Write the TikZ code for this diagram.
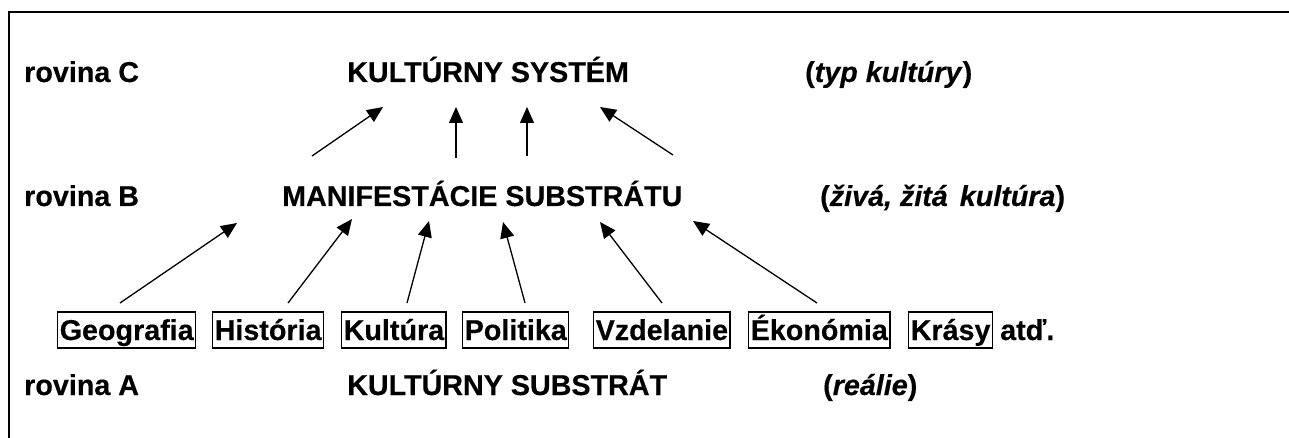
\documentclass[tikz,border=0pt]{standalone}
\usepackage{fontspec}
\setmainfont{Liberation Sans}[BoldFeatures={FakeBold=0.35}, BoldItalicFeatures={FakeBold=0.35}]
\usetikzlibrary{arrows.meta}

\tikzset{
  lbl/.style={anchor=base west, inner sep=0pt, font=\fontsize{28.7}{34}\selectfont\bfseries},
  itembox/.style={lbl, draw, line width=1.4pt, inner xsep=2pt, inner ysep=1.5pt,
                  text height=26.5pt, text depth=6.5pt},
  arr/.style={line width=1.3pt, -{Triangle[length=16pt,width=14pt]}},
  frame/.style={line width=1.6pt}
}

\begin{document}
\begin{tikzpicture}[x=1pt, y=-1pt]
\useasboundingbox (0,0) rectangle (1289,438);

% open frame (top and left edges)
\draw[frame] (1289,12) -- (9,12) -- (9,438);

% level C
\node[lbl] (rovC) at (24,82) {rovina C};
\node[lbl] (sys)  at (347,82) {KULTÚRNY SYSTÉM};
\node[lbl] (typC) at (805,82) {(\textit{typ kultúry})};

% level B
\node[lbl] (rovB) at (24,206) {rovina B};
\node[lbl] (man)  at (282,206) {MANIFESTÁCIE SUBSTRÁTU};
\node[lbl] (typB) at (820,206) {(\textit{živá, žitá\hspace{12pt}kultúra})};

% substrate items
\node[itembox] (geo) at (57,340)  {Geografia};
\node[itembox] (his) at (212,340) {História};
\node[itembox] (kul) at (341,340) {Kultúra};
\node[itembox] (pol) at (462,340) {Politika\ };
\node[itembox] (vzd) at (593,340) {Vzdelanie};
\node[itembox] (eko) at (748,340) {Ékonómia};
\node[itembox] (kra) at (908,340) {Krásy};
\node[lbl]     (atd) at (1000,340) {atď.};

% level A
\node[lbl] (rovA) at (24,395) {rovina A};
\node[lbl] (sub)  at (347,395) {KULTÚRNY SUBSTRÁT};
\node[lbl] (typA) at (823,395) {(\textit{reálie})};

% arrow ends between B and C
\coordinate (c1t) at (312,156); \coordinate (c1h) at (383,107);
\coordinate (c2t) at (456,158); \coordinate (c2h) at (456,107);
\coordinate (c3t) at (527,156); \coordinate (c3h) at (527,107);
\coordinate (c4t) at (673,155); \coordinate (c4h) at (600,107);

% arrow ends between A items and B
\coordinate (b1t) at (120,303); \coordinate (b1h) at (237,223);
\coordinate (b2t) at (288,303); \coordinate (b2h) at (352,219);
\coordinate (b3t) at (407,303); \coordinate (b3h) at (429,221);
\coordinate (b4t) at (525,303); \coordinate (b4h) at (503,222);
\coordinate (b5t) at (662,303); \coordinate (b5h) at (600,222);
\coordinate (b6t) at (817,303); \coordinate (b6h) at (693,221);

\foreach \i in {1,...,4} { \draw[arr] (c\i t) -- (c\i h); }
\foreach \i in {1,...,6} { \draw[arr] (b\i t) -- (b\i h); }
\end{tikzpicture}
\end{document}
